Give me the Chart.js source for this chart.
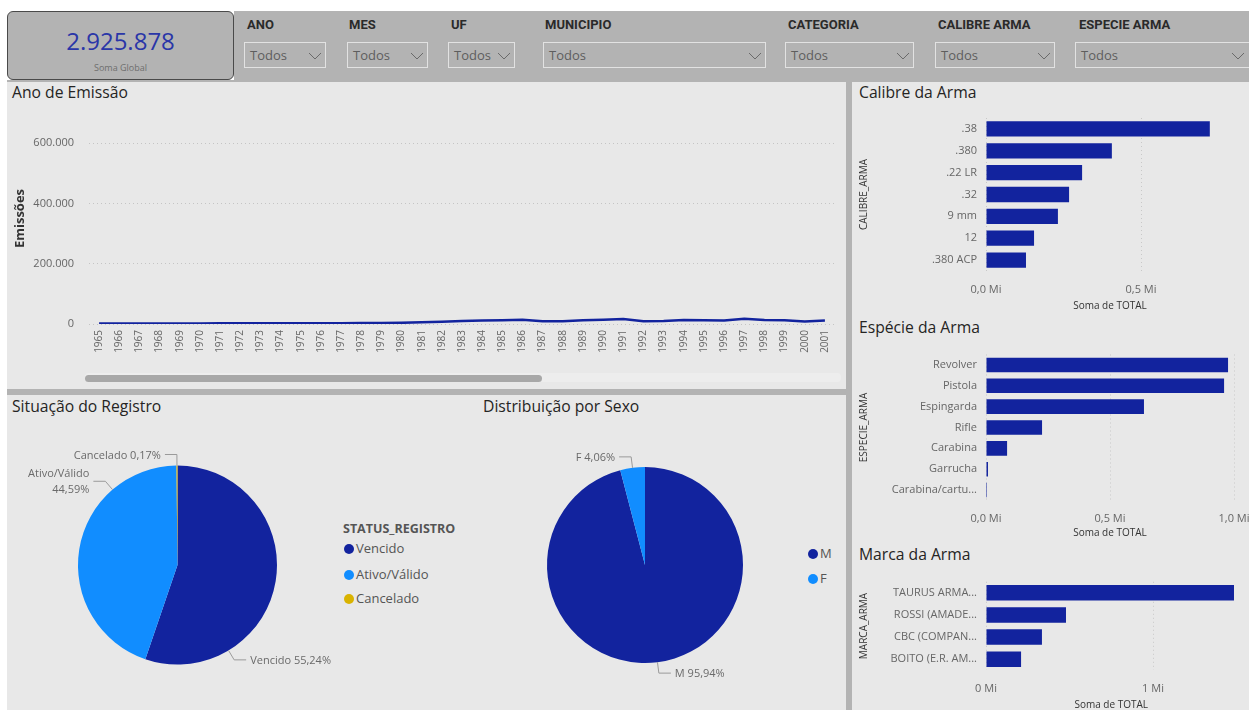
<!DOCTYPE html>
<html lang="pt-BR">
<head>
<meta charset="utf-8">
<script src="https://cdn.jsdelivr.net/npm/chart.js@4.4.1/dist/chart.umd.min.js"></script>
<style>
  html,body{margin:0;padding:0;}
  body{width:1249px;height:710px;overflow:hidden;position:relative;background:#ffffff;font-family:'Segoe UI','Open Sans',sans-serif;}
  .abs{position:absolute;}
  .band{left:234px;top:11px;width:1015px;height:69px;background:#b3b3b3;}
  .card{left:7px;top:11px;width:225px;height:67px;background:#b3b3b3;border:1px solid #4a4a4a;border-radius:6px;}
  .kpi{left:0;top:14px;width:225px;text-align:center;font-size:24px;color:#2a36a8;line-height:30px;}
  .kpisub{left:0;top:49px;width:225px;text-align:center;font-size:9px;color:#6e6e6e;}
  .shead{top:16px;font-family:Roboto,sans-serif;font-weight:700;font-size:13px;color:#2a2a2a;line-height:18px;}
  .sbox{top:42px;height:26px;border:1px solid #e2e2e2;box-sizing:border-box;}
  .sbox span{position:absolute;left:5px;top:3px;font-size:13px;color:#5e5e5e;line-height:18px;}
  .sbox svg{position:absolute;top:9px;}
  .gap{left:7px;top:80px;width:1242px;height:630px;background:#b3b3b3;}
  .panel{background:#e8e8e8;}
  .ptitle{font-size:15.7px;color:#252423;line-height:20px;}
  .legtitle{font-size:12.5px;font-weight:700;color:#555;}
  .legitem{font-size:13px;color:#555;line-height:16px;}
  .dot{display:inline-block;width:10px;height:10px;border-radius:50%;position:absolute;}
  canvas{position:absolute;}
</style>
</head>
<body>
<script>
// ---------------- DATA ----------------
const kpiTotal = 2925878;
const kpiLabel = 'Soma Global';
const slicerNames = ['ANO','MES','UF','MUNICIPIO','CATEGORIA','CALIBRE ARMA','ESPECIE ARMA'];
const slicerValue = 'Todos';

const years = ['1965','1966','1967','1968','1969','1970','1971','1972','1973','1974','1975','1976','1977','1978','1979','1980','1981','1982','1983','1984','1985','1986','1987','1988','1989','1990','1991','1992','1993','1994','1995','1996','1997','1998','1999','2000','2001'];
const emissions = [1500,1600,1700,1800,1900,2000,2100,2200,2300,2400,2300,2600,2800,3000,3400,4000,5500,7500,10000,11500,12500,14000,9500,9000,12500,14300,16500,9000,10000,13300,12300,11500,17700,13300,12300,8000,11500];
const lineYTicks = [0,200000,400000,600000];

const statusLabels = ['Vencido','Ativo/Válido','Cancelado'];
const statusValues = [55.24,44.59,0.17];
const sexoLabels = ['M','F'];
const sexoValues = [95.94,4.06];

const calibreLabels = ['.38','.380','.22 LR','.32','9 mm','12','.380 ACP'];
const calibreValues = [722000,406000,310000,268000,232000,155000,129000];
const calibreTicks = [0,500000];

const especieLabels = ['Revolver','Pistola','Espingarda','Rifle','Carabina','Garrucha','Carabina/cartu...'];
const especieValues = [976000,960000,637000,226000,85000,8000,4000];
const especieTicks = [0,500000,1000000];

const marcaLabels = ['TAURUS ARMA...','ROSSI (AMADE...','CBC (COMPAN...','BOITO (E.R. AM...'];
const marcaValues = [1485000,479000,335000,210000];
const marcaTicks = [0,1000000];

// ---------------- STYLE ----------------
const FONT = "'Segoe UI','Open Sans',sans-serif";
const NAVY = '#12239E', SKY = '#118DFF', GOLD = '#D9B300';

function fmtThousands(v){ return String(Math.round(v)).replace(/\B(?=(\d{3})+(?!\d))/g,'.'); }
function fmtMi(dec){ return v => (v/1e6).toFixed(dec).replace('.',',') + ' Mi'; }
function noPad(s){ s.paddingLeft=0; s.paddingRight=0; s.paddingTop=0; s.paddingBottom=0; }

// ---------------- STATIC LAYOUT ----------------
function el(tag, cls, css, html){ const e=document.createElement(tag); if(cls) e.className=cls; if(css) e.style.cssText=css; if(html!=null) e.innerHTML=html; document.body.appendChild(e); return e; }

el('div','abs band');
const card = el('div','abs card');
const k1 = document.createElement('div'); k1.className='abs kpi'; k1.textContent = fmtThousands(kpiTotal); card.appendChild(k1);
const k2 = document.createElement('div'); k2.className='abs kpisub'; k2.textContent = kpiLabel; card.appendChild(k2);

const slicerHeadX = [247,349,451,545,788,938,1079];
const slicerBox = [[244,326],[347,428],[448,515],[543,766],[785,914],[935,1055],[1075,1256]];
slicerNames.forEach((n,i)=>{
  el('div','abs shead','left:'+slicerHeadX[i]+'px;').textContent = n;
  const b = el('div','abs sbox','left:'+slicerBox[i][0]+'px;width:'+(slicerBox[i][1]-slicerBox[i][0])+'px;');
  b.innerHTML = '<span>'+slicerValue+'</span><svg width="14" height="8" style="left:'+(Math.min(slicerBox[i][1],1249)-slicerBox[i][0]-19)+'px"><polyline points="1,1 7,7 13,1" fill="none" stroke="#6a6a6a" stroke-width="1"/></svg>';
});

el('div','abs gap');
el('div','abs panel','left:7px;top:82px;width:839px;height:307px;');
el('div','abs panel','left:7px;top:395px;width:839px;height:315px;');
el('div','abs panel','left:852px;top:82px;width:397px;height:628px;');

el('div','abs ptitle','left:12px;top:82px;').textContent='Ano de Emissão';
el('div','abs ptitle','left:12px;top:396px;').textContent='Situação do Registro';
el('div','abs ptitle','left:483px;top:396px;').textContent='Distribuição por Sexo';
el('div','abs ptitle','left:859px;top:82px;').textContent='Calibre da Arma';
el('div','abs ptitle','left:859px;top:317px;').textContent='Espécie da Arma';
el('div','abs ptitle','left:859px;top:544px;').textContent='Marca da Arma';

// scrollbar
el('div','abs','left:85px;top:373px;width:756px;height:9px;background:#ededed;border-radius:4px;');
el('div','abs','left:85px;top:375px;width:457px;height:7px;background:#a8a8a8;border-radius:4px;');

// legends
el('div','abs legtitle','left:343px;top:520px;').textContent='STATUS_REGISTRO';
const statusColors=[NAVY,SKY,GOLD];
const statusLegY=[549,575,599];
statusLabels.forEach((l,i)=>{
  el('span','dot','left:344px;top:'+(statusLegY[i]-5)+'px;background:'+statusColors[i]+';');
  el('div','abs legitem','left:356px;top:'+(statusLegY[i]-9)+'px;').textContent=l;
});
const sexoColors=[NAVY,SKY];
const sexoLegY=[554,579];
sexoLabels.forEach((l,i)=>{
  el('span','dot','left:808px;top:'+(sexoLegY[i]-5)+'px;background:'+sexoColors[i]+';');
  el('div','abs legitem','left:820px;top:'+(sexoLegY[i]-9)+'px;').textContent=l;
});

function makeCanvas(id,left,top,w,h){
  const c=document.createElement('canvas'); c.id=id; c.width=w; c.height=h;
  c.style.left=left+'px'; c.style.top=top+'px'; c.style.width=w+'px'; c.style.height=h+'px';
  document.body.appendChild(c); return c;
}

Chart.defaults.font.family = FONT;
Chart.defaults.animation = false;
Chart.defaults.responsive = false;
Chart.defaults.devicePixelRatio = 1;
Chart.defaults.plugins.legend.display = false;
Chart.defaults.plugins.tooltip.enabled = false;

// ---------------- LINE CHART ----------------
new Chart(makeCanvas('line',7,100,839,270), {
  type:'line',
  data:{labels:years, datasets:[{data:emissions,borderColor:NAVY,borderWidth:2.5,pointRadius:0,tension:0,fill:false}]},
  options:{
    layout:{padding:{top:13,right:11,left:0,bottom:0}},
    scales:{
      x:{offset:true,grid:{display:false,drawTicks:false},border:{display:false},
         ticks:{minRotation:90,maxRotation:90,autoSkip:false,color:'#666',font:{size:10},padding:6},
         afterFit(s){s.height=46; noPad(s);}},
      y:{min:0,max:700000,afterBuildTicks(s){s.ticks=lineYTicks.map(v=>({value:v}));},
         grid:{color:'#c4c4c4',drawTicks:false},border:{display:false,dash:[1,3]},
         ticks:{callback:fmtThousands,color:'#666',font:{size:11},padding:15},
         title:{display:true,text:'Emissões',color:'#333',font:{size:13,weight:'bold'},padding:{top:5,bottom:0}},
         afterFit(s){s.width=82; noPad(s);}}
    }
  }
});

// ---------------- PIE CHARTS ----------------
const pieLabelPlugin = {
  id:'pieLabels',
  afterDatasetsDraw(chart, args, opts){
    const meta = chart.getDatasetMeta(0);
    const ctx = chart.ctx;
    const labels = chart.data.labels;
    const vals = chart.data.datasets[0].data;
    ctx.save();
    ctx.font = '11px ' + FONT;
    ctx.fillStyle = '#6a6a6a';
    ctx.strokeStyle = '#9a9a9a';
    ctx.lineWidth = 1;
    ctx.textBaseline = 'middle';
    meta.data.forEach((arc,i)=>{
      const p = arc.getProps(['x','y','outerRadius','startAngle','endAngle'],true);
      const frac = (opts.anchors && opts.anchors[i]!=null) ? opts.anchors[i] : 0.5;
      const a = p.startAngle + (p.endAngle-p.startAngle)*frac;
      const cx=Math.cos(a), cy=Math.sin(a);
      const x0=p.x+cx*p.outerRadius, y0=p.y+cy*p.outerRadius;
      const x1=p.x+cx*(p.outerRadius+11), y1=p.y+cy*(p.outerRadius+11);
      const dir = cx>0.0001 ? 1 : -1;
      const x2=x1+dir*12;
      ctx.beginPath(); ctx.moveTo(x0,y0); ctx.lineTo(x1,y1); ctx.lineTo(x2,y1); ctx.stroke();
      const pct = vals[i].toFixed(2).replace('.',',')+'%';
      const lines = (opts.wrap && opts.wrap.includes(i)) ? [labels[i],pct] : [labels[i]+' '+pct];
      ctx.textAlign = dir>0 ? 'left' : 'right';
      const tx = x2 + dir*4;
      const lh = 16;
      lines.forEach((t,j)=>{ ctx.fillText(t, tx, y1+1 + (j-(lines.length-1)/2)*lh); });
    });
    ctx.restore();
  }
};

new Chart(makeCanvas('pie1',7,420,333,285), {
  type:'pie',
  data:{labels:statusLabels, datasets:[{data:statusValues, backgroundColor:statusColors, borderWidth:0, hoverOffset:0}]},
  options:{layout:{padding:{left:71,right:63,top:45.5,bottom:40.5}}, plugins:{pieLabels:{anchors:[0.75,0.75,0.5],wrap:[1]}}},
  plugins:[pieLabelPlugin]
});

new Chart(makeCanvas('pie2',480,420,330,285), {
  type:'pie',
  data:{labels:sexoLabels, datasets:[{data:sexoValues, backgroundColor:sexoColors, borderWidth:0, hoverOffset:0}]},
  options:{layout:{padding:{left:67,right:67,top:46,bottom:41}}, plugins:{pieLabels:{}}},
  plugins:[pieLabelPlugin]
});

// ---------------- BAR CHARTS ----------------
function makeBar(id, top, height, labels, values, ticks, max, dec, title, padTop, padRight, xH){
  return new Chart(makeCanvas(id,852,top,400,height), {
    type:'bar',
    data:{labels:labels, datasets:[{data:values, backgroundColor:NAVY, borderWidth:0, barPercentage:0.7, categoryPercentage:1}]},
    options:{
      indexAxis:'y',
      layout:{padding:{top:padTop,right:padRight,left:0,bottom:0}},
      scales:{
        x:{min:0,max:max,afterBuildTicks(s){s.ticks=ticks.map(v=>({value:v}));},
           grid:{color:'#c8c8c8',drawTicks:false},border:{display:false,dash:[1,3]},
           ticks:{callback:fmtMi(dec),color:'#666',font:{size:11},padding:12,maxRotation:0},
           title:{display:true,text:'Soma de TOTAL',color:'#333',font:{size:10},padding:{top:0,bottom:1}},
           afterFit(s){s.height=xH; noPad(s);}},
        y:{grid:{display:false,drawTicks:false},border:{display:false},
           ticks:{color:'#666',font:{size:11},padding:9,autoSkip:false},
           title:{display:true,text:title,color:'#333',font:{size:10},padding:{top:6,bottom:0}},
           afterFit(s){s.width=134; noPad(s);}}
      }
    }
  });
}

makeBar('calibre',110,203,calibreLabels,calibreValues,calibreTicks,800000,1,'CALIBRE_ARMA',8,18,42);
makeBar('especie',345,195,especieLabels,especieValues,especieTicks,1000000,1,'ESPECIE_ARMA',9.5,18,39.5);
makeBar('marca',572,140,marcaLabels,marcaValues,marcaTicks,1500000,0,'MARCA_ARMA',9.8,15.5,41.8);
</script>
</body>
</html>
